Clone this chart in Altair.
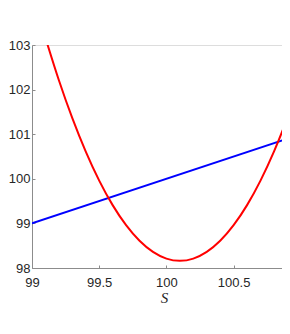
import altair as alt
import pandas as pd

# Blue straight line
blue_s = [99.0, 101.0]
blue_v = [99.0, 101.0]

# Red curve
red_s = [99.10, 99.20, 99.30, 99.40, 99.50, 99.60, 99.70, 99.80, 99.90, 100.00,
         100.10, 100.20, 100.30, 100.40, 100.50, 100.60, 100.70, 100.80, 100.90, 101.00]
red_v = [103.16, 102.21, 101.36, 100.61, 99.96, 99.41, 98.96, 98.61, 98.36, 98.21,
         98.16, 98.21, 98.36, 98.61, 98.96, 99.41, 99.96, 100.61, 101.36, 102.21]

x_ticks = [99, 99.5, 100, 100.5, 101]
y_ticks = [98, 99, 100, 101, 102, 103]

blue_df = pd.DataFrame({"S": blue_s, "V": blue_v})
red_df = pd.DataFrame({"S": red_s, "V": red_v})

W, H = 250, 223
x_dom = [99, 100.86]
y_dom = [98, 103]

AX = dict(labelFont="Liberation Sans", labelFontSize=13, labelColor="#262626",
          domainColor="#8c8c8c", tickColor="#8c8c8c", grid=False, format="~g")

x_main = alt.X("S:Q", scale=alt.Scale(domain=x_dom, nice=False, zero=False),
               axis=alt.Axis(values=x_ticks, orient="bottom", ticks=False, labelPadding=8,
                             title="S", titleFont="Liberation Serif", titleFontStyle="italic",
                             titleFontWeight="normal", titleFontSize=15, titleColor="#262626",
                             titlePadding=1, titleX=132, labelFlush=False, labelOverlap=False, **AX))
y_main = alt.Y("V:Q", scale=alt.Scale(domain=y_dom, nice=False, zero=False),
               axis=alt.Axis(values=y_ticks, orient="left", ticks=False, labelPadding=2,
                             title=None, labelFlush=False, labelOverlap=False, **AX))

x_tick = alt.X("S:Q", scale=alt.Scale(domain=x_dom, nice=False, zero=False),
               axis=alt.Axis(values=x_ticks[:-1], orient="top", offset=-H, labels=False, domain=False,
                             ticks=True, tickSize=3, title=None, grid=False, tickColor="#8c8c8c"))
y_tick = alt.Y("V:Q", scale=alt.Scale(domain=y_dom, nice=False, zero=False),
               axis=alt.Axis(values=y_ticks, orient="right", offset=-W, labels=False, domain=False,
                             ticks=True, tickSize=3, title=None, grid=False, tickColor="#8c8c8c"))

blue = alt.Chart(blue_df).mark_line(color="#0000ff", strokeWidth=2, clip=True).encode(x=x_main, y=y_main)
red = alt.Chart(red_df).mark_line(color="#ff0000", strokeWidth=2, clip=True,
                                  interpolate="monotone").encode(x=x_tick, y=y_tick)

chart = alt.layer(blue, red).resolve_axis(x="independent", y="independent").properties(
    width=W, height=H,
    autosize=alt.AutoSizeParams(type="none"),
    padding={"left": 24, "top": 37, "right": 0, "bottom": 40},
).configure_view(stroke=None).configure(background="white")

chart.save("out.html", embed_options={"renderer": "svg", "actions": False})
